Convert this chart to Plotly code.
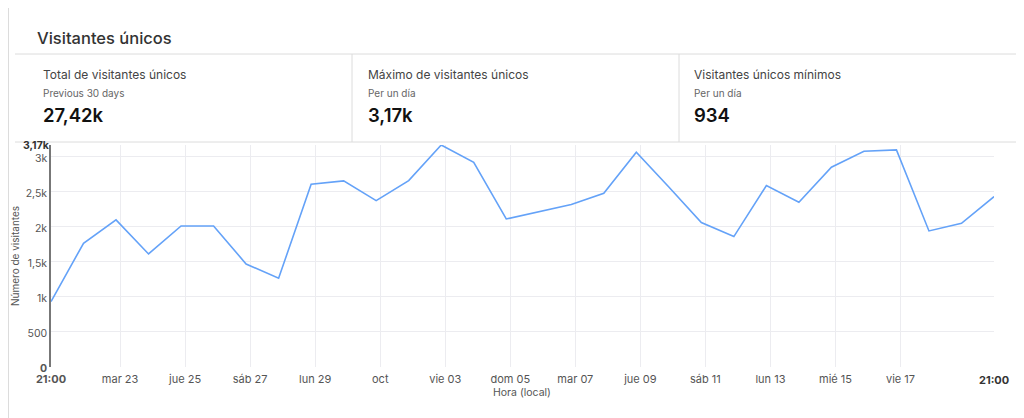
import pandas as pd
import plotly.graph_objects as go

# daily unique visitors, one point per day at 21:00
dates = pd.date_range("2025-09-20 21:00", periods=30, freq="D")
visitors = [934, 1767, 2100, 1614, 2014, 2014, 1471, 1267, 2610, 2657,
            2376, 2662, 3170, 2924, 2114, 2219, 2319, 2481, 3067, 2571,
            2062, 1862, 2590, 2352, 2852, 3081, 3100, 1943, 2052, 2433]

x_tickvals = ["2025-09-20 21:00", "2025-09-23", "2025-09-25", "2025-09-27",
              "2025-09-29", "2025-10-01", "2025-10-03", "2025-10-05",
              "2025-10-07", "2025-10-09", "2025-10-11", "2025-10-13",
              "2025-10-15", "2025-10-17"]
x_ticktext = ["<b>21:00</b>", "mar 23", "jue 25", "sáb 27", "lun 29", "oct",
              "vie 03", "dom 05", "mar 07", "jue 09", "sáb 11", "lun 13",
              "mié 15", "vie 17"]
y_tickvals = [0, 500, 1000, 1500, 2000, 2500, 3000]
y_ticktext = ["<b>0</b>", "500", "1k", "1,5k", "2k", "2,5k", "3k"]

stat_titles = ["Total de visitantes únicos", "Máximo de visitantes únicos",
               "Visitantes únicos mínimos"]
stat_subtitles = ["Previous 30 days", "Per un día", "Per un día"]
stat_values = ["27,42k", "3,17k", "934"]

FONT = "Inter, Roboto, sans-serif"
BORDER = "#dcdcdc"

# the page body has an 8px margin, so the figure starts at (8, 8)
PAGE_OFF = 8
W, H = 1024 - PAGE_OFF, 418 - PAGE_OFF

# plot area in page pixels, used to place the dashboard chrome around it
L, R, T, B = 51, 994, 145, 367


def px(x):
    return (x - L) / (R - L)


def py(y):
    return (B - y) / (B - T)


def line(x0, y0, x1, y1, color=BORDER):
    return dict(type="line", xref="paper", yref="paper",
                x0=px(x0), y0=py(y0), x1=px(x1), y1=py(y1),
                line=dict(color=color, width=1))


def text(x, y, s, size, color, anchor="left", weight="normal", **kw):
    return dict(xref="paper", yref="paper", x=px(x), y=py(y), text=s,
                showarrow=False, xanchor=anchor, yanchor="middle",
                font=dict(family=FONT, size=size, color=color, weight=weight),
                **kw)


fig = go.Figure()
fig.add_trace(go.Scatter(x=dates, y=visitors, mode="lines",
                         line=dict(color="#64a2f8", width=1.6),
                         hoverinfo="skip"))

shapes = [
    # outer card
    line(8.5, 8, 8.5, 418), line(1017, 8, 1017, 418),
    # header / stats separators
    line(15, 54, 1017, 54), line(15, 142, 1017, 142),
    line(352, 54, 352, 142), line(679, 54, 679, 142),
]

annotations = [text(35, 38, "Visitantes únicos", 16.5, "#333333", weight=500)]
for i, sx in enumerate([41, 366, 692]):
    annotations.append(text(sx, 75, stat_titles[i], 12, "#444444"))
    annotations.append(text(sx, 93, stat_subtitles[i], 10, "#666666"))
    annotations.append(text(sx, 115, stat_values[i], 18.5, "#111111", weight=600))

# axis titles and bold end labels
annotations.append(text(15, 256, "Número de visitantes", 10, "#555555",
                        anchor="center", textangle=-90))
annotations.append(text(522, 392, "Hora (local)", 10.5, "#555555", anchor="center"))
annotations.append(dict(xref="paper", yref="y", x=px(L + 1), y=max(visitors),
                        text="<b>3,17k</b>", showarrow=False, xanchor="right",
                        yanchor="middle",
                        font=dict(family=FONT, size=10.5, color="#333333")))
annotations.append(dict(xref="x", yref="paper", x=dates[-1], y=py(380),
                        text="<b>21:00</b>", showarrow=False, xanchor="center",
                        yanchor="middle",
                        font=dict(family=FONT, size=11, color="#333333")))

fig.update_layout(
    width=W, height=H,
    margin=dict(l=L - PAGE_OFF, r=W - (R - PAGE_OFF),
                t=T - PAGE_OFF, b=H - (B - PAGE_OFF)),
    paper_bgcolor="white", plot_bgcolor="white",
    showlegend=False,
    font=dict(family=FONT, size=11, color="#555555"),
    shapes=shapes, annotations=annotations,
)
fig.update_xaxes(range=[dates[0], dates[-1]], tickmode="array",
                 tickvals=x_tickvals, ticktext=x_ticktext,
                 showgrid=True, gridcolor="#ececf0", gridwidth=1,
                 showline=False, zeroline=False, ticks="",
                 ticklabelstandoff=4,
                 tickfont=dict(size=11, color="#555555"))
fig.update_yaxes(range=[0, max(visitors)], tickmode="array",
                 tickvals=y_tickvals, ticktext=y_ticktext,
                 showgrid=True, gridcolor="#ececf0", gridwidth=1,
                 showline=True, linecolor="#777777", linewidth=1.5,
                 zeroline=False, ticks="", ticklabelshift=1,
                 tickfont=dict(size=10.5, color="#555555"))

fig.write_html("out.html")
